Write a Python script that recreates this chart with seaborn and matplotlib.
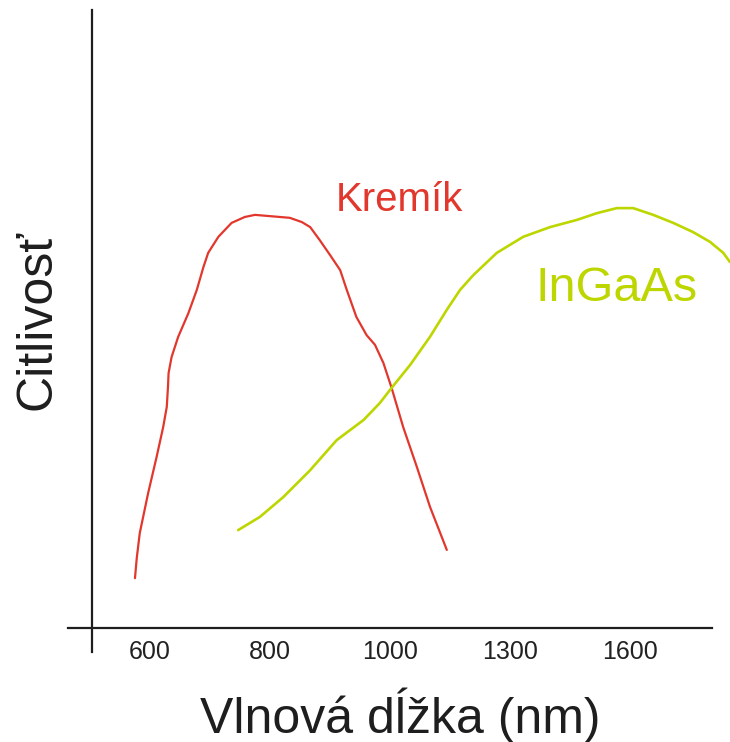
import numpy as np
import pandas as pd
import matplotlib
matplotlib.use("Agg")
import matplotlib.pyplot as plt
import seaborn as sns

# ---- data ----
tick_nm = [600, 800, 1000, 1300, 1600]
tick_labels = ["600", "800", "1000", "1300", "1600"]

si_nm = [575, 578, 583, 597, 611, 622, 628, 630, 631, 636, 647, 664, 678, 689,
         697, 714, 736, 758, 775, 800, 833, 853, 867, 883, 900, 917, 928, 944,
         961, 975, 989, 1004, 1033, 1067, 1100, 1142]
si_resp = [0.118, 0.166, 0.225, 0.320, 0.405, 0.476, 0.524, 0.571, 0.604, 0.642,
           0.690, 0.746, 0.801, 0.855, 0.889, 0.927, 0.960, 0.974, 0.979, 0.976,
           0.972, 0.962, 0.950, 0.919, 0.884, 0.848, 0.801, 0.737, 0.694, 0.671,
           0.628, 0.569, 0.476, 0.382, 0.287, 0.185]

ingaas_nm = [747, 783, 822, 867, 911, 956, 983, 1004, 1050, 1100, 1142, 1175,
             1208, 1267, 1333, 1400, 1467, 1517, 1567, 1608, 1658, 1708, 1758,
             1800, 1833, 1850]
ingaas_resp = [0.232, 0.263, 0.310, 0.374, 0.445, 0.493, 0.533, 0.569, 0.623,
               0.690, 0.754, 0.801, 0.836, 0.889, 0.927, 0.950, 0.967, 0.983,
               0.995, 0.995, 0.979, 0.960, 0.938, 0.915, 0.889, 0.867]

label_si = "Kremík"
label_ingaas = "InGaAs"
xlabel = "Vlnová dĺžka (nm)"
ylabel = "Citlivosť"

# ---- piecewise scale: equal spacing between ticks ----
tick_pos = np.arange(len(tick_nm), dtype=float)
tn = np.array(tick_nm, dtype=float)


def fwd(x):
    x = np.asarray(x, dtype=float)
    out = np.interp(x, tn, tick_pos)
    out = np.where(x < tn[0], (x - tn[0]) / (tn[1] - tn[0]), out)
    out = np.where(x > tn[-1], tick_pos[-1] + (x - tn[-1]) / (tn[-1] - tn[-2]), out)
    return out


def inv(p):
    p = np.asarray(p, dtype=float)
    out = np.interp(p, tick_pos, tn)
    out = np.where(p < 0, tn[0] + p * (tn[1] - tn[0]), out)
    out = np.where(p > tick_pos[-1], tn[-1] + (p - tick_pos[-1]) * (tn[-1] - tn[-2]), out)
    return out


sns.set_style("white")
plt.rcParams["font.family"] = ["Liberation Sans", "DejaVu Sans"]

RED = "#e2372c"
GREEN = "#bdd600"
AX = "#1e1e1e"

fig = plt.figure(figsize=(7.30, 7.42), dpi=100)
ax = fig.add_axes([68 / 730, 1 - 652 / 742, 662 / 730, 642 / 742])
ax.set_xscale("function", functions=(fwd, inv))

df_si = pd.DataFrame({"nm": si_nm, "r": si_resp})
df_in = pd.DataFrame({"nm": ingaas_nm, "r": ingaas_resp})
sns.lineplot(data=df_si, x="nm", y="r", ax=ax, color=RED, lw=1.6,
             sort=False, estimator=None, solid_joinstyle="round")
sns.lineplot(data=df_in, x="nm", y="r", ax=ax, color=GREEN, lw=1.9,
             sort=False, estimator=None, solid_joinstyle="round")

ax.set_xlim(inv(-0.683), inv(4.833))
ax.set_ylim(-0.0569, 1.4645)

ax.set_xticks(tick_nm)
ax.set_xticklabels(tick_labels)
ax.set_yticks([])
ax.tick_params(axis="x", length=0, pad=9, labelsize=18, labelcolor="#222222")

for s in ["top", "right"]:
    ax.spines[s].set_visible(False)
ax.spines["left"].set_position(("axes", 24 / 662))
ax.spines["bottom"].set_position(("data", 0))
ax.spines["bottom"].set_bounds(inv(-0.683), inv(4.683))
for s in ["left", "bottom"]:
    ax.spines[s].set_color(AX)
    ax.spines[s].set_linewidth(1.6)
    ax.spines[s].set_visible(True)

ax.set_xlabel(xlabel, fontsize=36, color="#1e1e1e")
ax.xaxis.label.set_va("center")
ax.xaxis.set_label_coords(332 / 662, -63 / 642)
ax.set_ylabel(ylabel, fontsize=36, color="#1e1e1e")
ax.yaxis.label.set_va("center")
ax.yaxis.set_label_coords(-30 / 662, 332 / 642)

ax.text(331 / 662, 452 / 642, label_si, transform=ax.transAxes, color=RED,
        fontsize=29, ha="center", va="center")
ax.text(549 / 662, 364 / 642, label_ingaas, transform=ax.transAxes, color=GREEN,
        fontsize=35, ha="center", va="center")

fig.savefig("out.png", dpi=100)
